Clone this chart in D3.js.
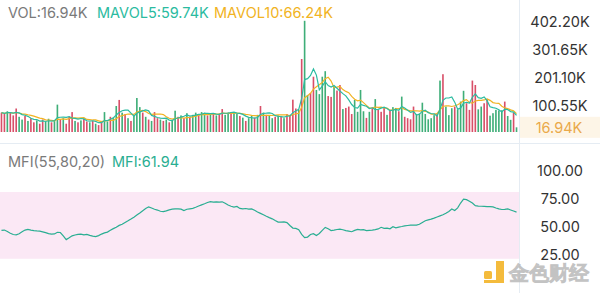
<!DOCTYPE html>
<html>
<head>
<meta charset="utf-8">
<script src="https://cdn.jsdelivr.net/npm/d3@7"></script>
<style>
  html, body { margin: 0; padding: 0; background: #fff; }
  svg { display: block; }
  text { font-family: Inter, "Noto Sans", sans-serif; }
</style>
</head>
<body>
<svg id="chart" width="600" height="293"></svg>
<script>
// Trading volume per candle, in thousands
const volume = [
  70, 65, 75, 70, 60, 85, 55, 45, 58, 40,
  50, 35, 42, 30, 45, 38, 48, 35, 40, 99,
  45, 50, 30, 55, 72, 40, 35, 42, 48, 38,
  35, 40, 30, 25, 40, 72, 38, 55, 50, 94,
  116, 70, 65, 50, 40, 60, 123, 90, 70, 55,
  45, 40, 72, 50, 45, 40, 45, 35, 42, 77,
  55, 60, 50, 68, 55, 62, 70, 65, 72, 70,
  60, 65, 68, 60, 66, 83, 62, 70, 72, 72,
  65, 58, 52, 40, 50, 58, 52, 62, 94, 70,
  62, 58, 50, 55, 60, 55, 50, 65, 62, 117,
  85, 80, 264, 402.2, 134, 141, 200, 152, 137, 200,
  220, 130, 127, 164, 150, 170, 83, 87, 92, 65,
  116, 73, 152, 75, 51, 73, 87, 119, 80, 73,
  90, 62, 80, 90, 87, 75, 128, 55, 50, 46,
  92, 65, 67, 106, 65, 46, 50, 61, 67, 186,
  209, 92, 61, 86, 92, 82, 110, 149, 104, 80,
  186, 170, 82, 92, 104, 119, 59, 68, 80, 78,
  78.7, 110, 58, 44, 69.76, 16.94
];

// 1 = candle closed up (green), 0 = closed down (red)
const rising = [
  0, 0, 1, 0, 0, 0, 1, 1, 0, 1,
  0, 0, 1, 0, 0, 1, 1, 0, 1, 1,
  0, 1, 0, 0, 0, 1, 0, 1, 0, 0,
  1, 0, 1, 0, 0, 1, 1, 0, 1, 1,
  0, 1, 0, 1, 0, 1, 1, 1, 0, 1,
  0, 1, 0, 0, 1, 0, 1, 0, 1, 1,
  0, 1, 0, 1, 0, 1, 1, 0, 1, 1,
  0, 1, 0, 1, 0, 0, 1, 1, 0, 1,
  1, 0, 1, 0, 1, 1, 0, 1, 0, 1,
  0, 1, 1, 0, 1, 0, 1, 0, 0, 0,
  0, 1, 0, 1, 1, 0, 0, 1, 1, 1,
  1, 0, 0, 1, 0, 0, 1, 0, 0, 0,
  1, 1, 1, 1, 0, 1, 0, 1, 0, 0,
  0, 1, 0, 1, 1, 0, 1, 0, 0, 0,
  0, 1, 1, 1, 1, 1, 1, 1, 0, 1,
  0, 1, 1, 1, 0, 1, 1, 1, 0, 0,
  0, 0, 1, 1, 0, 0, 1, 1, 1, 1,
  1, 0, 1, 1, 0, 1
];

// Money Flow Index per candle
const mfi = [
  45.5, 45.8, 44.5, 43.0, 41.8, 41.5, 42.5, 44.3, 45.8, 46.4,
  45.8, 45.3, 45.0, 44.8, 44.2, 43.5, 42.6, 42.1, 42.3, 43.8,
  43.6, 40.5, 37.2, 38.8, 40.6, 41.4, 41.9, 42.1, 41.5, 41.9,
  41.0, 40.3, 39.9, 40.8, 42.2, 43.3, 44.0, 45.6, 47.1, 48.4,
  50.0, 51.0, 52.6, 54.1, 55.7, 57.4, 59.3, 61.2, 63.2, 65.1,
  66.7, 65.6, 64.5, 63.8, 62.7, 62.4, 63.1, 64.0, 64.6, 64.8,
  64.9, 64.6, 63.4, 64.5, 64.9, 65.3, 66.3, 67.4, 68.5, 69.5,
  70.6, 71.4, 71.0, 71.2, 70.9, 71.2, 69.9, 68.3, 67.2, 66.5,
  67.0, 65.3, 64.9, 65.2, 64.6, 64.8, 63.6, 62.1, 60.8, 59.5,
  58.2, 57.0, 55.9, 54.4, 53.0, 52.9, 53.2, 52.5, 49.9, 47.6,
  47.3, 46.2, 42.0, 39.0, 39.5, 41.8, 42.6, 40.9, 42.7, 45.5,
  48.2, 47.0, 45.4, 45.8, 46.3, 46.7, 46.1, 45.3, 44.8, 44.3,
  45.5, 46.4, 45.9, 46.2, 45.3, 45.6, 45.8, 46.2, 46.8, 48.3,
  47.3, 47.5, 46.9, 48.8, 47.8, 48.5, 49.0, 49.6, 49.9, 50.2,
  50.3, 50.2, 51.0, 52.6, 54.2, 55.0, 55.6, 56.5, 57.6, 58.6,
  59.6, 61.0, 62.6, 64.7, 63.4, 65.8, 70.1, 73.6, 73.2, 71.8,
  70.1, 67.8, 67.3, 67.2, 67.1, 66.9, 66.9, 66.6, 65.6, 64.8,
  64.3, 64.4, 64.9, 63.9, 62.9, 61.94
];

const volTicks = [100.55, 201.10, 301.65, 402.20];
const mfiTicks = [25, 50, 75, 100];
const mfiBand = [20, 80];

const colors = {
  up: "#3fae78", down: "#d84f68",
  ma5: "#2bbba0", ma10: "#f1b323",
  mfi: "#2aae92", band: "#fbe8f5",
  grid: "#e5ecf3", label: "#333333", muted: "#7a7a7a"
};

// Rolling mean of volume over the given period (shorter window at the start)
function movingAverage(values, period) {
  return values.map((_, i) => d3.mean(values.slice(Math.max(0, i - period + 1), i + 1)));
}
const ma5 = movingAverage(volume, 5);
const ma10 = movingAverage(volume, 10);

const svg = d3.select("#chart");
const plotW = 518;
const fmtK = d => d3.format(".2f")(d) + "K";

const x = d3.scaleBand()
  .domain(d3.range(volume.length))
  .range([0, plotW])
  .paddingInner(0.45)
  .paddingOuter(0.225);
const cx = i => x(i) + x.bandwidth() / 2;

const yVol = d3.scaleLinear().domain([0, 402.2]).range([132, 20.8]);
const yMfi = d3.scaleLinear().domain([0, 100]).range([281, 169.8]);

// panel separators
svg.append("line").attr("x1", 519.5).attr("x2", 519.5).attr("y1", 0).attr("y2", 293)
  .attr("stroke", colors.grid);
svg.append("line").attr("x1", 0).attr("x2", 600).attr("y1", 143.5).attr("y2", 143.5)
  .attr("stroke", colors.grid);

// ---------- volume panel ----------
svg.append("g").selectAll("rect").data(volume).join("rect")
  .attr("x", (d, i) => x(i))
  .attr("width", x.bandwidth())
  .attr("y", d => yVol(d))
  .attr("height", d => yVol(0) - yVol(d))
  .attr("fill", (d, i) => rising[i] ? colors.up : colors.down);

const volLine = d3.line().x((d, i) => cx(i)).y(d => yVol(d));
svg.append("path").datum(ma10).attr("d", volLine)
  .attr("fill", "none").attr("stroke", colors.ma10).attr("stroke-width", 1.2);
svg.append("path").datum(ma5).attr("d", volLine)
  .attr("fill", "none").attr("stroke", colors.ma5).attr("stroke-width", 1.2);

const last = volume.length - 1;
const legendTop = svg.append("g").attr("font-size", 14.5);
legendTop.append("text").attr("x", 8).attr("y", 17.5).attr("fill", colors.muted)
  .text("VOL:" + fmtK(volume[last]));
legendTop.append("text").attr("x", 97).attr("y", 17.5).attr("fill", colors.ma5)
  .text("MAVOL5:" + fmtK(ma5[last]));
legendTop.append("text").attr("x", 214).attr("y", 17.5).attr("fill", colors.ma10)
  .text("MAVOL10:" + fmtK(ma10[last]));

const volAxis = svg.append("g").attr("transform", "translate(560,0)")
  .call(d3.axisRight(yVol).tickValues(volTicks).tickSize(0).tickPadding(0).tickFormat(fmtK));
volAxis.select(".domain").remove();
volAxis.selectAll("text").attr("x", 0).attr("dy", "0.4em")
  .attr("text-anchor", "middle").attr("fill", colors.label)
  .attr("font-size", 14.5).attr("font-family", "Inter, sans-serif");

// current-volume tag
svg.append("rect").attr("x", 520).attr("y", yVol(volume[last]) - 10.5)
  .attr("width", 80).attr("height", 21).attr("fill", "#fdf5e7");
svg.append("text").attr("x", 559).attr("y", yVol(volume[last])).attr("dy", "0.4em")
  .attr("text-anchor", "middle").attr("font-size", 14.5).attr("fill", "#eaa94a")
  .text(fmtK(volume[last]));

// ---------- MFI panel ----------
svg.append("rect").attr("x", 0).attr("width", 519)
  .attr("y", yMfi(mfiBand[1])).attr("height", yMfi(mfiBand[0]) - yMfi(mfiBand[1]))
  .attr("fill", colors.band);

svg.append("path").datum(mfi)
  .attr("d", d3.line().x((d, i) => cx(i)).y(d => yMfi(d)))
  .attr("fill", "none").attr("stroke", colors.mfi).attr("stroke-width", 1.2);

const legendMfi = svg.append("g").attr("font-size", 14.5);
legendMfi.append("text").attr("x", 8).attr("y", 166.5).attr("fill", colors.muted)
  .text("MFI(55,80,20)");
legendMfi.append("text").attr("x", 112).attr("y", 166.5).attr("fill", colors.mfi)
  .text("MFI:" + d3.format(".2f")(mfi[last]));

const mfiAxis = svg.append("g").attr("transform", "translate(560,0)")
  .call(d3.axisRight(yMfi).tickValues(mfiTicks).tickSize(0).tickPadding(0).tickFormat(d3.format(".2f")));
mfiAxis.select(".domain").remove();
mfiAxis.selectAll("text").attr("x", 0).attr("dy", "0.4em")
  .attr("text-anchor", "middle").attr("fill", colors.label)
  .attr("font-size", 14.5).attr("font-family", "Inter, sans-serif");

// ---------- brand mark ----------
const brand = svg.append("g").attr("opacity", 0.9);
brand.append("rect").attr("x", 484).attr("y", 271).attr("width", 8).attr("height", 8)
  .attr("rx", 1.5).attr("fill", "#f3b428");
brand.append("path")
  .attr("d", "M496,261 h8 v22 h-20 v-3 h12 z")
  .attr("fill", "#f3b428");
brand.append("text").attr("x", 509).attr("y", 280)
  .attr("font-family", "'Noto Sans CJK SC', sans-serif").attr("font-weight", 700)
  .attr("font-size", 20).attr("fill", "#ececec").attr("stroke", "#bdbdbd").attr("stroke-width", 0.7)
  .text("金色财经");
</script>
</body>
</html>
